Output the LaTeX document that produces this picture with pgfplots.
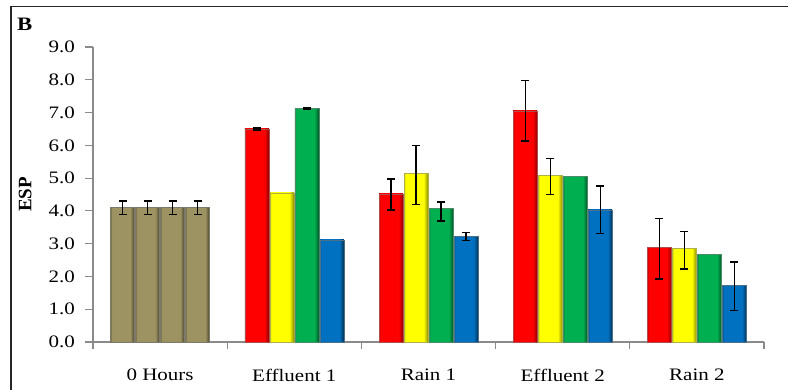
\documentclass[border=0pt]{standalone}
\usepackage{fontspec}
\setmainfont{Liberation Serif}[FakeStretch=1.2]
\newfontfamily\plainserif{Liberation Serif}
\usepackage{pgfplots}
\pgfplotsset{compat=1.18}

\definecolor{cred}{HTML}{FF0000}
\definecolor{cyel}{HTML}{FFFF00}
\definecolor{cgrn}{HTML}{00B050}
\definecolor{cblu}{HTML}{0070C0}
\definecolor{ckha}{HTML}{9C9262}
\definecolor{axgray}{HTML}{8A8A8A}

\colorlet{credL}{cred!78!black}\colorlet{credR}{cred!55!black}
\colorlet{cyelL}{cyel!80!black}\colorlet{cyelR}{cyel!55!black}
\colorlet{cgrnL}{cgrn!75!black}\colorlet{cgrnR}{cgrn!50!black}
\colorlet{cbluL}{cblu!75!black}\colorlet{cbluR}{cblu!45!black}
\colorlet{ckhaL}{ckha!75!black}\colorlet{ckhaR}{ckha!45!black}

\pgfdeclarehorizontalshading{shcred}{100bp}{color(0bp)=(credL); color(25bp)=(credL); color(28bp)=(cred); color(66bp)=(cred); color(75bp)=(credR); color(100bp)=(credR)}
\pgfdeclarehorizontalshading{shcyel}{100bp}{color(0bp)=(cyelL); color(25bp)=(cyelL); color(28bp)=(cyel); color(66bp)=(cyel); color(75bp)=(cyelR); color(100bp)=(cyelR)}
\pgfdeclarehorizontalshading{shcgrn}{100bp}{color(0bp)=(cgrnL); color(25bp)=(cgrnL); color(28bp)=(cgrn); color(66bp)=(cgrn); color(75bp)=(cgrnR); color(100bp)=(cgrnR)}
\pgfdeclarehorizontalshading{shcblu}{100bp}{color(0bp)=(cbluL); color(25bp)=(cbluL); color(28bp)=(cblu); color(66bp)=(cblu); color(75bp)=(cbluR); color(100bp)=(cbluR)}
\pgfdeclarehorizontalshading{shckha}{100bp}{color(0bp)=(ckhaL); color(25bp)=(ckhaL); color(28bp)=(ckha); color(66bp)=(ckha); color(75bp)=(ckhaR); color(100bp)=(ckhaR)}

\newcommand{\fs}{\fontsize{17.5bp}{20bp}\selectfont}
% one bar: shift, colour, x, y
\newcommand{\bbar}[4]{\addplot[ybar, bar width=24bp, bar shift=#1, draw=#2R!70, line width=0.4bp, shading=sh#2] coordinates {(#3,#4)};}

\begin{document}
\begin{tikzpicture}
\useasboundingbox (0,0) rectangle (788bp,390bp);
\draw[line width=1.6bp, black!85] (11bp,0) -- (11bp,383.5bp) -- (788bp,383.5bp);
\node[anchor=base west, inner sep=0pt, font=\fontsize{19bp}{21bp}\selectfont\bfseries] at (17bp,359bp) {B};
\begin{axis}[
  at={(93bp,48bp)}, anchor=south west,
  scale only axis, width=671bp, height=295bp,
  xmin=-0.5, xmax=4.5, ymin=0, ymax=9,
  axis lines*=left,
  axis line style={axgray, line width=1.3bp},
  every tick/.style={axgray, line width=1.1bp},
  tick align=outside,
  xtick={0,1,2,3,4},
  xticklabels={0 Hours, Effluent 1, Rain 1, Effluent 2, Rain 2},
  minor xtick={-0.5,0.5,1.5,2.5,3.5,4.5},
  major x tick style={draw=none},
  minor tick length=7bp,
  major tick length=8bp,
  ytick={0,1,...,9},
  yticklabel style={/pgf/number format/fixed, /pgf/number format/fixed zerofill, /pgf/number format/precision=1, font=\fs, inner sep=0pt, anchor=east, xshift=-10bp},
  xticklabel style={font=\fs, inner sep=0pt, anchor=north, yshift=-19bp},
  /pgf/number format/assume math mode=true,
  ylabel={ESP},
  ylabel style={font=\plainserif\fontsize{19bp}{21bp}\selectfont\bfseries, at={(axis description cs:-0.101,0.5)}, anchor=center},
  clip=false,
  error bars/y dir=both, error bars/y explicit,
  error bars/error bar style={black, line width=1.2bp},
  error bars/error mark options={black, line width=1.2bp, mark size=4bp, rotate=90},
]
% 0 Hours (khaki)
\bbar{-37.5bp}{ckha}{0}{4.1}
\bbar{-12.5bp}{ckha}{0}{4.1}
\bbar{12.5bp}{ckha}{0}{4.1}
\bbar{37.5bp}{ckha}{0}{4.1}
% red series
\bbar{-37.5bp}{cred}{1}{6.5}
\bbar{-37.5bp}{cred}{2}{4.52}
\bbar{-37.5bp}{cred}{3}{7.05}
\bbar{-37.5bp}{cred}{4}{2.88}
% yellow series
\bbar{-12.5bp}{cyel}{1}{4.55}
\bbar{-12.5bp}{cyel}{2}{5.15}
\bbar{-12.5bp}{cyel}{3}{5.08}
\bbar{-12.5bp}{cyel}{4}{2.85}
% green series
\bbar{12.5bp}{cgrn}{1}{7.13}
\bbar{12.5bp}{cgrn}{2}{4.07}
\bbar{12.5bp}{cgrn}{3}{5.05}
\bbar{12.5bp}{cgrn}{4}{2.68}
% blue series
\bbar{37.5bp}{cblu}{1}{3.12}
\bbar{37.5bp}{cblu}{2}{3.23}
\bbar{37.5bp}{cblu}{3}{4.03}
\bbar{37.5bp}{cblu}{4}{1.72}
% error bars (x positions = category + bar offset in axis units)
\addplot[draw=none, mark=none, error bars/.cd, y dir=both, y explicit]
  coordinates {(-0.2794,4.1) +- (0,0.2) (0.7206,6.5) +- (0,0.03) (1.7206,4.5) +- (0,0.47) (2.7206,7.05) +- (0,0.92) (3.7206,2.85) +- (0,0.93)};
\addplot[draw=none, mark=none, error bars/.cd, y dir=both, y explicit]
  coordinates {(-0.0931,4.1) +- (0,0.2) (1.9069,5.1) +- (0,0.9) (2.9069,5.05) +- (0,0.56) (3.9069,2.8) +- (0,0.57)};
\addplot[draw=none, mark=none, error bars/.cd, y dir=both, y explicit]
  coordinates {(0.0931,4.1) +- (0,0.2) (1.0931,7.13) +- (0,0.02) (2.0931,3.98) +- (0,0.29)};
\addplot[draw=none, mark=none, error bars/.cd, y dir=both, y explicit]
  coordinates {(0.2794,4.1) +- (0,0.2) (2.2794,3.22) +- (0,0.13) (3.2794,4.03) +- (0,0.73) (4.2794,1.7) +- (0,0.74)};
\end{axis}
\end{tikzpicture}
\end{document}
